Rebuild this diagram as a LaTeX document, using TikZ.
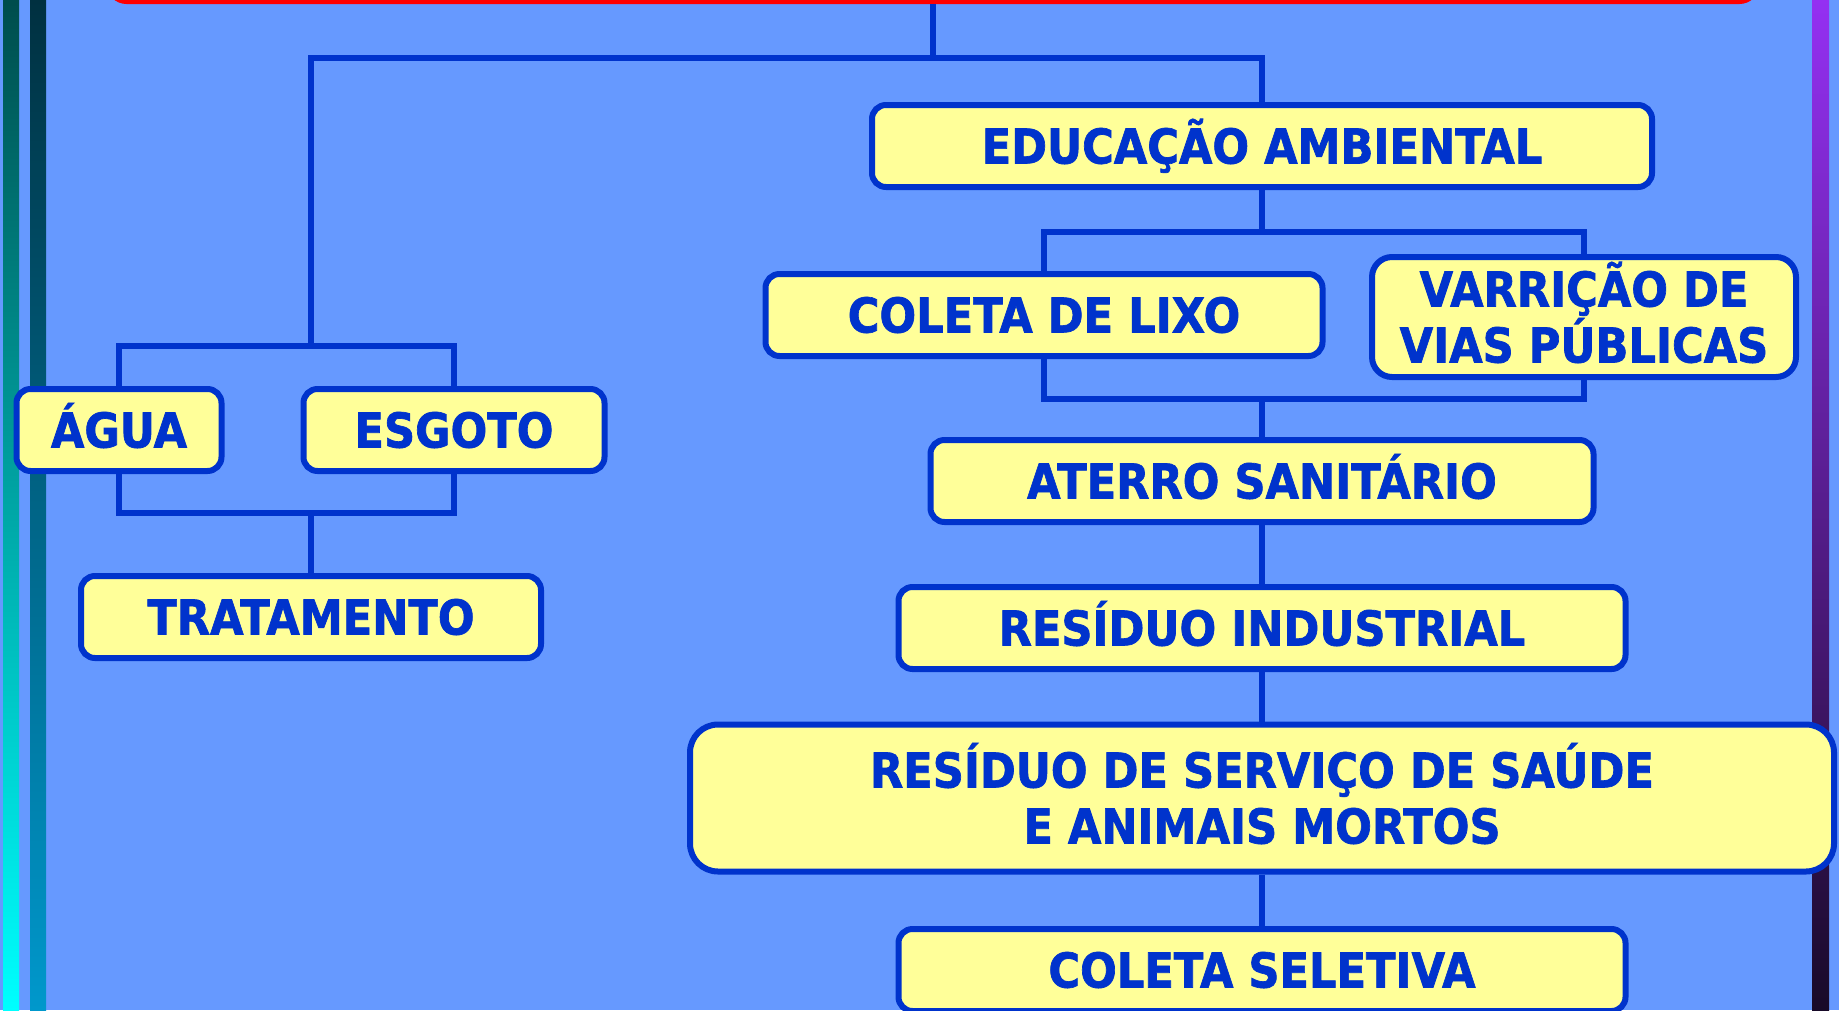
\documentclass[tikz,border=0pt]{standalone}
\usepackage{fontspec}
\setmainfont[FakeStretch=0.9, BoldFeatures={FakeBold=1.4}]{DejaVu Sans}
\usepackage{tikz}
\usetikzlibrary{positioning,calc}
\definecolor{fundo}{HTML}{6699FF}
\definecolor{azulsan}{HTML}{0033CC}
\definecolor{amarelo}{HTML}{FFFF99}
\definecolor{vermelho}{HTML}{FF0000}

\begin{document}
\begin{tikzpicture}[x=1pt, y=-1pt,
    caixa/.style={draw=azulsan, line width=6pt, fill=amarelo, rounded corners=14pt,
        text=azulsan, font=\fontsize{48}{56}\selectfont\bfseries, align=center,
        inner sep=0pt, minimum height=82pt, text height=35pt, text depth=0pt},
    liga/.style={draw=azulsan, line width=5.5pt}]
        % Page
        \useasboundingbox (0,0) rectangle (1839,1010);
        \clip (0,0) rectangle (1839,1010);
        \fill[fundo] (0,0) rectangle (1839,1010);

        % Side bars
        \shade[top color=teal!60!black, bottom color=cyan] (3,0) rectangle (19,1010);
        \shade[top color={rgb,255:red,0;green,48;blue,64}, bottom color={rgb,255:red,0;green,152;blue,204}] (30,0) rectangle (46,1010);
        \shade[top color={rgb,255:red,148;green,48;blue,242}, bottom color={rgb,255:red,24;green,10;blue,40}] (1812,0) rectangle (1829,1010);

        % Title box (cut off at the top)
        \node[fill=vermelho, rounded corners=20pt, inner sep=0pt, minimum width=1653pt, minimum height=60pt] (titulo) at (933,-26) {};

        % Boxes
        \node[caixa, minimum width=780pt] (educ) at (1262,146) {EDUCAÇÃO AMBIENTAL};
        \node[caixa, minimum width=557pt] (lixo) at (1044,315) {COLETA DE LIXO};
        \node[caixa, minimum width=424pt, minimum height=120pt, rounded corners=20pt, text height=91pt, yshift=-1pt] (varricao) at (1584,316) {VARRIÇÃO DE\\VIAS PÚBLICAS};
        \node[caixa, minimum width=205pt] (agua) at (119,430) {ÁGUA};
        \node[caixa, minimum width=301pt] (esgoto) at (454,430) {ESGOTO};
        \node[caixa, minimum width=460pt] (trat) at (311,617) {TRATAMENTO};
        \node[caixa, minimum width=663pt] (aterro) at (1262,481) {ATERRO SANITÁRIO};
        \node[caixa, minimum width=727pt] (industrial) at (1262,628) {RESÍDUO INDUSTRIAL};
        \node[caixa, minimum width=1144pt, minimum height=147pt, rounded corners=28pt, text height=91pt] (saude) at (1262,798) {RESÍDUO DE SERVIÇO DE SAÚDE\\E ANIMAIS MORTOS};
        \node[caixa, minimum width=727pt] (seletiva) at (1262,970) {COLETA SELETIVA};

        % Junctions
        \coordinate (raiz) at (933,58);
        \coordinate (ramoE) at (trat.north |- 0,346);
        \coordinate (ramoE2) at (trat.north |- 0,513);
        \coordinate (ramoD) at (educ.south |- 0,232);
        \coordinate (ramoD2) at (educ.south |- 0,399);

        % Top split
        \draw[liga] (titulo.south) -- (raiz);
        \draw[liga] (educ.north) |- (raiz -| ramoE) -- (ramoE);

        % Water and sewage
        \draw[liga] (agua.north) |- (ramoE) -| (esgoto.north);
        \draw[liga] (agua.south) |- (ramoE2) -| (esgoto.south);
        \draw[liga] (ramoE2) -- (trat.north);

        % Solid waste
        \draw[liga] (educ.south) -- (ramoD);
        \draw[liga] (lixo.north) |- (ramoD) -| (varricao.north);
        \draw[liga] (lixo.south) |- (ramoD2) -| (varricao.south);
        \draw[liga] (ramoD2) -- (aterro.north);
        \draw[liga] (aterro) -- (industrial);
        \draw[liga] (industrial) -- (saude);
        \draw[liga] (saude) -- (seletiva);
    \end{tikzpicture}
\end{document}
